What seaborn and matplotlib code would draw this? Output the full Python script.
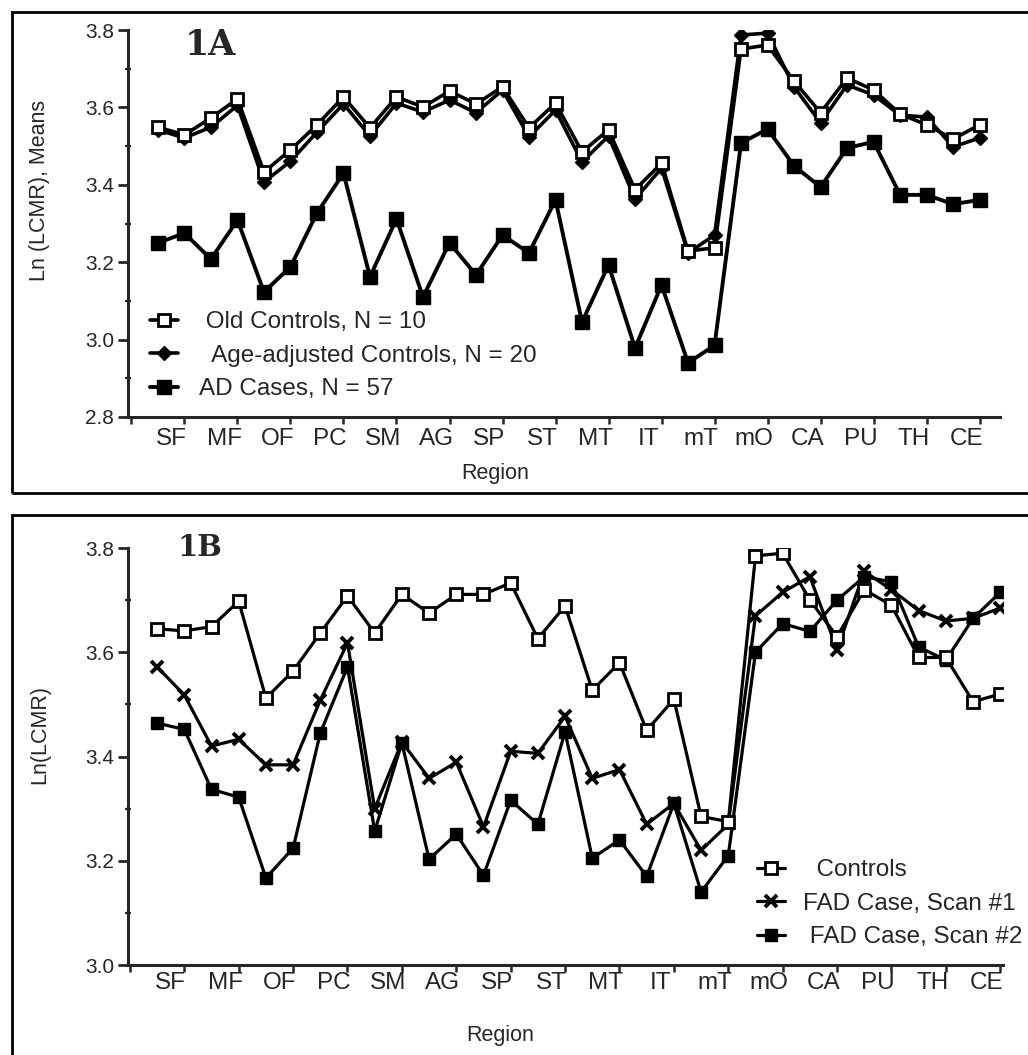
import numpy as np
import pandas as pd
import matplotlib
matplotlib.use("Agg")
import matplotlib.pyplot as plt
import seaborn as sns
from matplotlib.patches import Rectangle
from matplotlib import font_manager

# Brain regions (each sampled as a left/right pair along the axis)
regions = ["SF", "MF", "OF", "PC", "SM", "AG", "SP", "ST",
           "MT", "IT", "mT", "mO", "CA", "PU", "TH", "CE"]

# Panel 1A: Ln(LCMR) means
old_controls = [3.549, 3.529, 3.573, 3.622, 3.433, 3.490, 3.555, 3.627,
                3.547, 3.627, 3.601, 3.642, 3.609, 3.653, 3.547, 3.611,
                3.485, 3.542, 3.387, 3.456, 3.229, 3.237, 3.751, 3.761,
                3.668, 3.586, 3.676, 3.645, 3.583, 3.555, 3.518, 3.555]
age_adjusted = [3.542, 3.521, 3.549, 3.605, 3.407, 3.461, 3.536, 3.609,
                3.526, 3.611, 3.588, 3.619, 3.586, 3.645, 3.524, 3.593,
                3.459, 3.526, 3.363, 3.443, 3.224, 3.270, 3.787, 3.792,
                3.653, 3.560, 3.658, 3.632, 3.580, 3.575, 3.498, 3.521]
ad_cases = [3.250, 3.275, 3.208, 3.309, 3.123, 3.188, 3.327, 3.430,
            3.162, 3.312, 3.110, 3.250, 3.167, 3.270, 3.224, 3.361,
            3.045, 3.193, 2.978, 3.141, 2.940, 2.985, 3.508, 3.544,
            3.449, 3.394, 3.495, 3.511, 3.374, 3.374, 3.350, 3.361]

# Panel 1B: Ln(LCMR)
controls_b = [3.645, 3.641, 3.649, 3.698, 3.512, 3.564, 3.637, 3.708,
              3.637, 3.711, 3.675, 3.711, 3.711, 3.733, 3.626, 3.689,
              3.527, 3.580, 3.450, 3.510, 3.285, 3.275, 3.785, 3.790,
              3.700, 3.630, 3.720, 3.690, 3.590, 3.590, 3.505, 3.520]
fad_scan1 = [3.572, 3.518, 3.420, 3.433, 3.384, 3.384, 3.508, 3.618,
             3.300, 3.428, 3.358, 3.389, 3.265, 3.410, 3.406, 3.477,
             3.358, 3.375, 3.270, 3.310, 3.220, 3.270, 3.670, 3.715,
             3.745, 3.605, 3.755, 3.720, 3.680, 3.660, 3.665, 3.685]
fad_scan2 = [3.464, 3.452, 3.337, 3.322, 3.167, 3.224, 3.445, 3.572,
             3.257, 3.426, 3.203, 3.251, 3.172, 3.316, 3.270, 3.447,
             3.205, 3.240, 3.170, 3.310, 3.140, 3.210, 3.600, 3.655,
             3.640, 3.700, 3.745, 3.735, 3.610, 3.585, 3.665, 3.715]

sns.set_style("ticks")
plt.rcParams["font.family"] = ["Liberation Sans", "DejaVu Sans"]
plt.rcParams["axes.linewidth"] = 2.2

installed = {f.name for f in font_manager.fontManager.ttflist}
cat_family = "Liberation Sans Narrow" if "Liberation Sans Narrow" in installed else "Liberation Sans"
cat_size = 20 if cat_family == "Liberation Sans Narrow" else 17.5

W, H = 1028, 1055
fig = plt.figure(figsize=(W / 100, H / 100), dpi=100)


def fx(px):
    return px / W


def fy(py):
    return 1 - py / H


pos = np.arange(len(old_controls))
df_a = pd.DataFrame({"pos": pos, "old": old_controls,
                     "adj": age_adjusted, "ad": ad_cases})
df_b = pd.DataFrame({"pos": pos, "ctrl": controls_b,
                     "s1": fad_scan1, "s2": fad_scan2})

# ---- axes placement
axA = fig.add_axes([fx(128), fy(417), fx(1000) - fx(128), fy(30) - fy(417)])
axB = fig.add_axes([fx(128), fy(965), fx(1003) - fx(128), fy(548) - fy(965)])

# ---- panel 1A
sns.lineplot(data=df_a, x="pos", y="ad", ax=axA, color="k", lw=2.8,
             marker="s", markersize=10, markerfacecolor="k",
             markeredgecolor="k", markeredgewidth=1, label="AD Cases, N = 57")
sns.lineplot(data=df_a, x="pos", y="adj", ax=axA, color="k", lw=2.6,
             marker="D", markersize=7, markerfacecolor="k",
             markeredgecolor="k", markeredgewidth=1,
             label="  Age-adjusted Controls, N = 20")
sns.lineplot(data=df_a, x="pos", y="old", ax=axA, color="k", lw=2.6,
             marker="s", markersize=8.5, markerfacecolor="white",
             markeredgecolor="k", markeredgewidth=2,
             label=" Old Controls, N = 10")

# ---- panel 1B
sns.lineplot(data=df_b, x="pos", y="s2", ax=axB, color="k", lw=2.3,
             marker="s", markersize=9, markerfacecolor="k",
             markeredgecolor="k", markeredgewidth=1,
             label=" FAD Case, Scan #2")
sns.lineplot(data=df_b, x="pos", y="s1", ax=axB, color="k", lw=2.3,
             marker="x", markersize=8, markeredgecolor="k",
             markeredgewidth=2.8, label="FAD Case, Scan #1")
sns.lineplot(data=df_b, x="pos", y="ctrl", ax=axB, color="k", lw=2.3,
             marker="s", markersize=8, markerfacecolor="white",
             markeredgecolor="k", markeredgewidth=2, label="  Controls")


def style_axis(ax, ylo, yhi, xlim, lab_pad):
    ax.set_xlim(*xlim)
    ax.set_ylim(ylo, yhi)
    ax.set_xlabel("")
    ax.set_ylabel("")
    sns.despine(ax=ax)
    yt = np.round(np.arange(ylo, yhi + 0.001, 0.2), 1)
    ax.set_yticks(yt)
    ax.set_yticklabels([f"{v:.1f}" for v in yt], fontsize=15)
    ax.set_yticks(np.round(np.arange(ylo + 0.1, yhi, 0.2), 1), minor=True)
    ax.set_xticks(np.arange(-1, len(pos), 2))
    ax.set_xticklabels([])
    ax.set_xticks(np.arange(0.5, len(pos), 2), minor=True)
    ax.set_xticklabels(regions, minor=True, fontsize=cat_size,
                       family=cat_family)
    ax.tick_params(axis="y", which="major", length=7, width=2,
                   direction="out", pad=3)
    ax.tick_params(axis="y", which="minor", length=5, width=1.6,
                   direction="inout")
    ax.tick_params(axis="x", which="major", length=5, width=1.8,
                   direction="out")
    ax.tick_params(axis="x", which="minor", length=0, pad=lab_pad)
    ax.set_facecolor("white")


style_axis(axA, 2.8, 3.8, (-1.13, 31.77), 8)
style_axis(axB, 3.0, 3.8, (-1.07, 31.1), 5)

# ---- legends
hA, lA = axA.get_legend_handles_labels()
order = [2, 1, 0]
axA.legend([hA[i] for i in order], [lA[i] for i in order],
           loc="upper left", bbox_to_anchor=(fx(150), fy(311)),
           bbox_transform=fig.transFigure, frameon=False, fontsize=17.5,
           handlelength=1.15, handletextpad=0.85, labelspacing=0.48,
           borderpad=0, borderaxespad=0)
hB, lB = axB.get_legend_handles_labels()
axB.legend([hB[i] for i in order], [lB[i] for i in order],
           loc="upper left", bbox_to_anchor=(fx(757), fy(859)),
           bbox_transform=fig.transFigure, frameon=False, fontsize=17.5,
           handlelength=1.15, handletextpad=0.75, labelspacing=0.48,
           borderpad=0, borderaxespad=0)

# ---- panel frames
fig.add_artist(Rectangle((fx(12), fy(493)), fx(1040) - fx(12), fy(12) - fy(493),
                         transform=fig.transFigure, fill=False, lw=2,
                         ec="k", clip_on=False))
fig.add_artist(Rectangle((fx(12), fy(1070)), fx(1040) - fx(12), fy(515) - fy(1070),
                         transform=fig.transFigure, fill=False, lw=2,
                         ec="k", clip_on=False))

# ---- panel titles and axis titles
fig.text(fx(185), fy(45), "1A", family="DejaVu Serif", fontweight="bold",
         fontsize=25, ha="left", va="center")
fig.text(fx(177), fy(547), "1B", family="DejaVu Serif", fontweight="bold",
         fontsize=21, ha="left", va="center")
fig.text(fx(40), fy(190), "Ln (LCMR), Means", rotation=90, fontsize=15.5,
         ha="center", va="center")
fig.text(fx(40), fy(735), "Ln(LCMR)", rotation=90, fontsize=15.5,
         ha="center", va="center")
fig.text(fx(495), fy(474), "Region", fontsize=15.5, ha="center", va="center")
fig.text(fx(500), fy(1035), "Region", fontsize=15.5, ha="center", va="center")

fig.savefig("out.png", dpi=100, facecolor="white")
